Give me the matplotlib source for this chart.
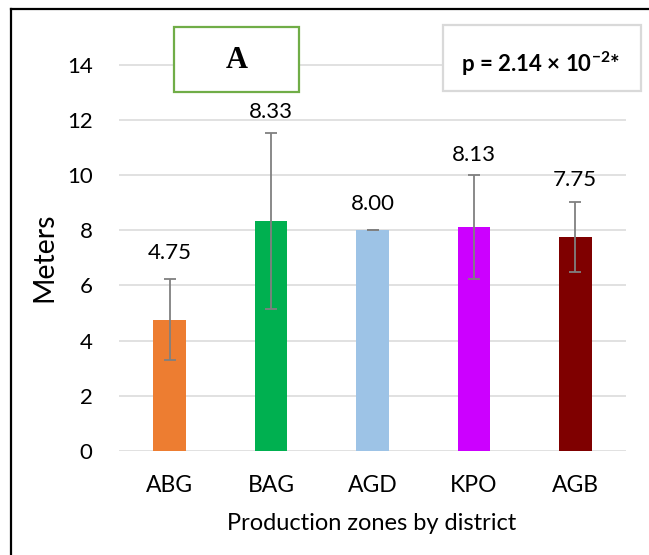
import matplotlib
matplotlib.use('Agg')
import matplotlib.pyplot as plt
from matplotlib.patches import Rectangle
from matplotlib.lines import Line2D
import numpy as np

plt.rcParams['font.family'] = ['Lato', 'DejaVu Sans']
plt.rcParams['mathtext.fontset'] = 'custom'
plt.rcParams['mathtext.rm'] = 'Lato'
plt.rcParams['mathtext.bf'] = 'Lato:bold'

# ── data ─────────────────────────────────────────────────────────────────────
districts = ['ABG', 'BAG', 'AGD', 'KPO', 'AGB']
height_m  = [4.75, 8.33, 8.00, 8.13, 7.75]
sd_m      = [1.47, 3.20, 0.00, 1.88, 1.26]
bar_colors = ['#ED7D31', '#00B050', '#9DC3E6', '#CC00FF', '#7F0000']
# where the value labels were placed on the original (data units)
label_y   = [7.17, 12.28, 8.95, 10.72, 9.82]

GRID = '#D9D9D9'
ERR  = '#808080'

fig = plt.figure(figsize=(6.49, 5.55), dpi=100)
ax = fig.add_axes([119 / 649, 104 / 555, 507 / 649, 414 / 555])

x = np.arange(len(districts))
ax.bar(x, height_m, width=0.32, color=bar_colors, zorder=2)
ax.errorbar(x, height_m, yerr=sd_m, fmt='none', ecolor=ERR,
            elinewidth=1.3, capsize=4.5, capthick=1.3, zorder=3)

for xi, v, ly in zip(x, height_m, label_y):
    ax.text(xi, ly, f'{v:.2f}', ha='center', va='center', fontsize=16)

ax.set_xlim(-0.5, len(districts) - 0.5)
ax.set_ylim(0, 15)
ax.set_yticks(range(0, 15, 2))
ax.set_xticks(x)
ax.set_xticklabels(districts)
ax.tick_params(axis='both', length=0)
ax.tick_params(axis='y', pad=19, labelsize=16)
ax.tick_params(axis='x', pad=17, labelsize=16.5)
ax.grid(axis='y', color=GRID, linewidth=1.1, zorder=0)
ax.set_axisbelow(True)
for sp in ax.spines.values():
    sp.set_visible(False)

fig.text(44 / 649, 1 - 257 / 555, 'Meters', rotation=90,
         ha='center', va='center', fontsize=20.5)
fig.text(372 / 649, 1 - 523 / 555, 'Production zones by district',
         ha='center', va='center', fontsize=17)

# panel letter box
fig.add_artist(Rectangle((174 / 649, 1 - 92 / 555), 125 / 649, 65 / 555,
                         transform=fig.transFigure, fill=True, facecolor='white',
                         edgecolor='#70AD47', linewidth=1.6, zorder=5))
fig.text(236.5 / 649, 1 - 60 / 555, 'A', ha='center', va='center',
         fontsize=22, fontweight='bold', family='Liberation Serif', zorder=6)

# p-value box
fig.add_artist(Rectangle((443 / 649, 1 - 91 / 555), 198 / 649, 66 / 555,
                         transform=fig.transFigure, fill=True, facecolor='white',
                         edgecolor=GRID, linewidth=1.6, zorder=5))
fig.text(541 / 649, 1 - 64 / 555, r'p = 2.14 × 10$^{\mathbf{-2}}$*',
         ha='center', va='center', fontsize=16, fontweight='bold', zorder=6)

# outer frame (top and left edges only)
fig.add_artist(Line2D([11 / 649, 1], [1 - 9 / 555, 1 - 9 / 555],
                      transform=fig.transFigure, color='black', linewidth=1.6))
fig.add_artist(Line2D([11 / 649, 11 / 649], [0, 1 - 9 / 555],
                      transform=fig.transFigure, color='black', linewidth=1.6))

fig.savefig('out.png', dpi=100)
